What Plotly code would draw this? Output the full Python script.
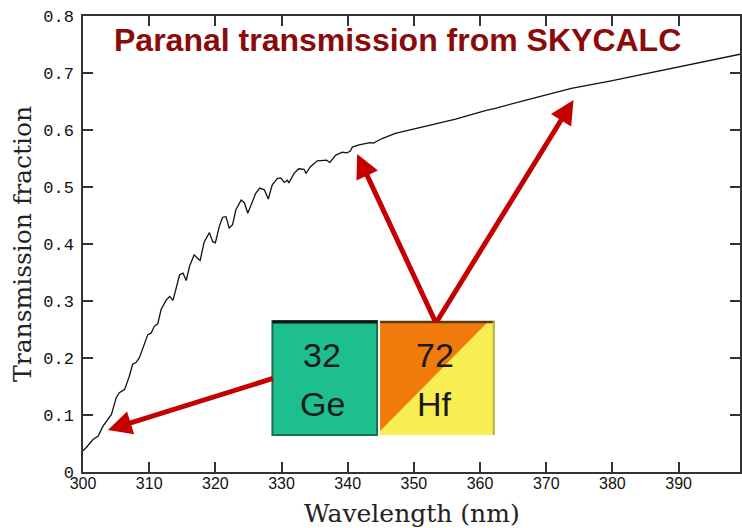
import plotly.graph_objects as go

# ---- data ----
wavelength_nm = [300.0, 300.5, 301.5, 302.3, 303.0, 303.8, 304.3, 305.0, 305.5, 306.3,
                 307.0, 307.5, 308.0, 308.5, 309.3, 309.8, 310.3, 310.8, 311.3, 311.8,
                 312.6, 313.1, 313.6, 314.1, 314.6, 315.1, 315.6, 316.1, 316.8, 317.3,
                 317.7, 318.3, 319.1, 319.6, 320.0, 320.6, 321.1, 321.6, 322.1, 322.6,
                 323.1, 323.9, 324.4, 324.9, 325.4, 326.1, 326.7, 327.4, 328.0, 328.6,
                 329.4, 329.9, 330.4, 330.9, 331.1, 331.9, 332.6, 333.4, 333.7, 334.4,
                 335.4, 336.2, 336.8, 337.3, 338.2, 339.2, 339.9, 340.4, 340.7, 341.7,
                 343.4, 343.9, 345.2, 347.2, 351.7, 356.3, 360.8, 362.3, 366.8, 373.8,
                 379.8, 383.9, 388.9, 393.9, 399.3]
transmission = [0.037, 0.043, 0.057, 0.063, 0.080, 0.094, 0.101, 0.130, 0.139, 0.145,
                0.168, 0.189, 0.192, 0.200, 0.227, 0.241, 0.244, 0.256, 0.260, 0.285,
                0.302, 0.308, 0.301, 0.323, 0.346, 0.349, 0.336, 0.361, 0.381, 0.375,
                0.371, 0.403, 0.420, 0.404, 0.402, 0.431, 0.447, 0.448, 0.428, 0.434,
                0.460, 0.477, 0.472, 0.454, 0.469, 0.489, 0.498, 0.495, 0.479, 0.504,
                0.515, 0.516, 0.508, 0.512, 0.507, 0.524, 0.532, 0.531, 0.524, 0.536,
                0.546, 0.547, 0.547, 0.543, 0.556, 0.561, 0.560, 0.563, 0.570, 0.574,
                0.578, 0.577, 0.585, 0.594, 0.607, 0.619, 0.634, 0.638, 0.652, 0.673,
                0.686, 0.696, 0.708, 0.720, 0.733]

x_ticks = [300, 310, 320, 330, 340, 350, 360, 370, 380, 390]
y_ticks = [0, 0.1, 0.2, 0.3, 0.4, 0.5, 0.6, 0.7, 0.8]

title_text = "Paranal transmission from SKYCALC"
x_title = "Wavelength (nm)"
y_title = "Transmission fraction"

# element tiles: (number, symbol)
tile_ge = ("32", "Ge")
tile_hf = ("72", "Hf")

# ---- layout geometry ----
W, H = 742, 528
ML, MR, MT, MB = 83, 0, 16, 56
X_RANGE = [300, 399.28]
Y_RANGE = [0, 0.8]
PW, PH = W - ML - MR, H - MT - MB


def px_x(p):
    return X_RANGE[0] + (p - ML) / PW * (X_RANGE[1] - X_RANGE[0])


def px_y(p):
    return Y_RANGE[0] + (MT + PH - p) / PH * (Y_RANGE[1] - Y_RANGE[0])


fig = go.Figure()
fig.add_trace(go.Scatter(x=wavelength_nm, y=transmission, mode="lines",
                         line=dict(color="#111111", width=1.3), showlegend=False,
                         hoverinfo="skip"))

shapes = []
annotations = []

# Ge tile
gx0, gx1, gy0, gy1 = 273, 378, 321, 435
shapes.append(dict(type="rect", xref="x", yref="y", x0=px_x(gx0), x1=px_x(gx1),
                   y0=px_y(gy1), y1=px_y(gy0), fillcolor="#1dbf8e",
                   line=dict(color="#1b6e52", width=2), layer="above"))
shapes.append(dict(type="line", xref="x", yref="y", x0=px_x(gx0), x1=px_x(gx1),
                   y0=px_y(gy0 + 1), y1=px_y(gy0 + 1), line=dict(color="#111111", width=3),
                   layer="above"))

# Hf tile
hx0, hx1 = 381, 496
shapes.append(dict(type="rect", xref="x", yref="y", x0=px_x(hx0), x1=px_x(hx1),
                   y0=px_y(gy1), y1=px_y(gy0), fillcolor="#f8ee52",
                   line=dict(width=0), layer="above"))
tri = "M {},{} L {},{} L {},{} L {},{} Z".format(
    px_x(hx0), px_y(gy1 - 4), px_x(hx0), px_y(gy0), px_x(490), px_y(gy0), px_x(hx0), px_y(gy1 - 4))
shapes.append(dict(type="path", xref="x", yref="y", path=tri, fillcolor="#f07a0c",
                   line=dict(width=0), layer="above"))
shapes.append(dict(type="line", xref="x", yref="y", x0=px_x(hx0), x1=px_x(hx1),
                   y0=px_y(gy0 + 1), y1=px_y(gy0 + 1), line=dict(color="#5a3a10", width=2.5),
                   layer="above"))
shapes.append(dict(type="line", xref="x", yref="y", x0=px_x(hx1 - 1), x1=px_x(hx1 - 1),
                   y0=px_y(gy1), y1=px_y(gy0), line=dict(color="#b8b040", width=2),
                   layer="above"))

tile_font = dict(family="Liberation Sans, Arial, sans-serif", size=34, color="#1a1a1a")
for (num, sym), cx in ((tile_ge, 323), (tile_hf, 436)):
    annotations.append(dict(x=px_x(cx), y=px_y(355), xref="x", yref="y", text=num,
                            showarrow=False, font=tile_font, xanchor="center", yanchor="middle"))
    annotations.append(dict(x=px_x(cx), y=px_y(404), xref="x", yref="y", text=sym,
                            showarrow=False, font=tile_font, xanchor="center", yanchor="middle"))

# arrows (tip, tail) in pixel positions
arrow_color = "#c40000"
arrows = [((575, 100), (437, 323)), ((358, 154), (437, 323)), ((108, 430), (275, 378))]
for (tx, ty), (sx, sy) in arrows:
    annotations.append(dict(x=px_x(tx), y=px_y(ty), ax=px_x(sx), ay=px_y(sy),
                            xref="x", yref="y", axref="x", ayref="y", text="",
                            showarrow=True, arrowhead=2, arrowsize=0.95, arrowwidth=5,
                            arrowcolor=arrow_color))

# title
annotations.append(dict(x=px_x(398), y=px_y(40), xref="x", yref="y", text="<b>" + title_text + "</b>",
                        showarrow=False, xanchor="center", yanchor="middle",
                        font=dict(family="Liberation Sans, Arial, sans-serif", size=32, color="#8b0a0a")))

axis_title_font = dict(family="DejaVu Serif, serif", size=25, color="#222222")
annotations.append(dict(x=0.5, y=0, xref="paper", yref="paper", text=x_title, showarrow=False,
                        xanchor="center", yanchor="middle", yshift=-41, font=axis_title_font))
annotations.append(dict(x=0, y=0.5, xref="paper", yref="paper", text=y_title, showarrow=False,
                        xanchor="center", yanchor="middle", xshift=-61, textangle=-90,
                        font=axis_title_font))

fig.update_layout(
    width=W, height=H,
    margin=dict(l=ML, r=MR, t=MT, b=MB, pad=0),
    paper_bgcolor="white", plot_bgcolor="white",
    shapes=shapes, annotations=annotations,
    xaxis=dict(range=X_RANGE, tickvals=x_ticks, ticks="inside", ticklen=10, tickwidth=1.5,
               tickcolor="#333333", showline=True, linecolor="#333333", linewidth=1.5,
               mirror="ticks", showgrid=False, zeroline=False, ticklabelstandoff=-4,
               tickfont=dict(family="Liberation Sans, Arial, sans-serif", size=16, color="#111111")),
    yaxis=dict(range=Y_RANGE, tickvals=y_ticks, ticks="inside", ticklen=10, tickwidth=1.5,
               tickcolor="#333333", showline=True, linecolor="#333333", linewidth=1.5,
               mirror="ticks", showgrid=False, zeroline=False, ticklabelstandoff=4,
               tickfont=dict(family="Liberation Mono, monospace", size=17, color="#111111")),
)

fig.write_html("out.html")
